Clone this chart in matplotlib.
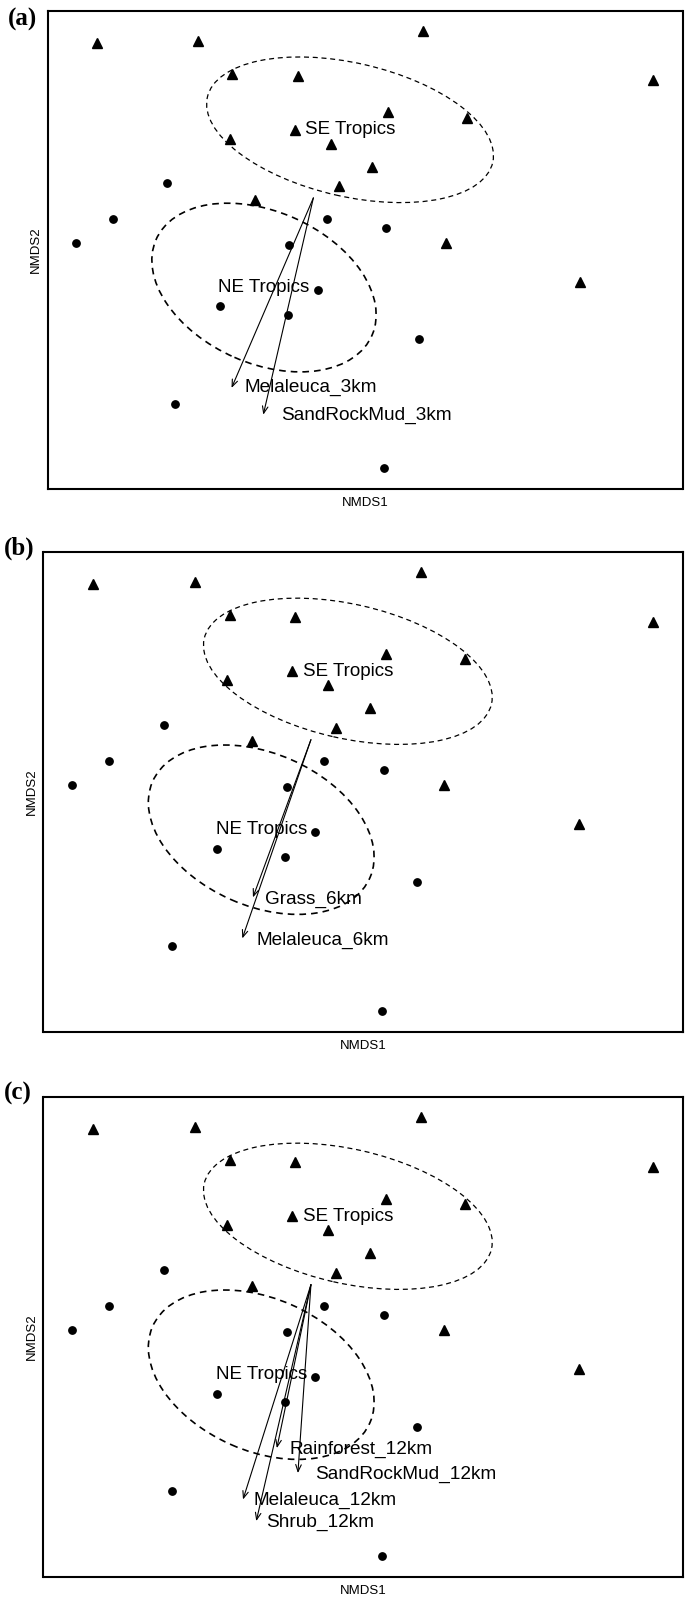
import numpy as np
import matplotlib
matplotlib.use('Agg')
import matplotlib.pyplot as plt
from matplotlib.patches import Ellipse

plt.rcParams['font.family'] = ['Liberation Sans', 'DejaVu Sans']

# site scores (NMDS1, NMDS2)
se_x = [-0.922, -0.491, 0.467, -0.344, -0.066, 1.444, 0.319, 0.653,
        -0.078, -0.353, 0.074, 0.251, 0.108, -0.248, 0.562, 1.133]
se_y = [0.650, 0.656, 0.699, 0.520, 0.510, 0.492, 0.359, 0.336,
        0.285, 0.247, 0.226, 0.131, 0.050, -0.007, -0.189, -0.350]
ne_x = [-0.621, -0.852, -1.008, 0.056, 0.310, -0.103, 0.019, -0.396,
        -0.109, 0.449, -0.587, 0.302]
ne_y = [0.063, -0.087, -0.188, -0.089, -0.126, -0.198, -0.385, -0.454,
        -0.489, -0.591, -0.861, -1.130]

# group ellipses: centre, axes, rotation
groups = ['SE Tropics', 'NE Tropics']
ell_cx = [0.156, -0.210]
ell_cy = [0.285, -0.375]
ell_w = [1.244, 1.002]
ell_h = [0.559, 0.636]
ell_ang = [-12.6, -23.3]

# envfit vectors per panel
vec_names = [['Melaleuca_3km', 'SandRockMud_3km'],
             ['Grass_6km', 'Melaleuca_6km'],
             ['Rainforest_12km', 'SandRockMud_12km', 'Melaleuca_12km', 'Shrub_12km']]
vec_x = [[-0.348, -0.213],
         [-0.245, -0.290],
         [-0.144, -0.055, -0.287, -0.231]]
vec_y = [[-0.795, -0.907],
         [-0.657, -0.828],
         [-0.681, -0.785, -0.895, -0.985]]
lab_x = [[-0.292, -0.139],
         [-0.194, -0.231],
         [-0.089, 0.016, -0.242, -0.190]]
lab_y = [[-0.795, -0.910],
         [-0.664, -0.837],
         [-0.686, -0.791, -0.900, -0.989]]
panels = ['(a)', '(b)', '(c)']

W, H = 685, 1598
fig = plt.figure(figsize=(W / 100, H / 100), dpi=100)

# frame boxes in pixels: left, top, right, bottom
boxes = [(47.7, 11, 682.5, 489), (43.5, 552, 682.5, 1032), (43.5, 1097, 682.5, 1577)]
tags = [(8, 19), (4, 548), (4, 1093)]

for i, (l, t, r, b) in enumerate(boxes):
    ax = fig.add_axes([l / W, 1 - b / H, (r - l) / W, (b - t) / H])
    ax.set_xlim(-1.130, 1.570)
    ax.set_ylim(-1.218, 0.782)
    ax.set_xticks([])
    ax.set_yticks([])
    for s in ax.spines.values():
        s.set_linewidth(1.5)
    ax.set_xlabel('NMDS1', fontsize=9.5, labelpad=6)
    ax.set_ylabel('NMDS2', fontsize=9.5, labelpad=4)

    ax.plot(se_x, se_y, '^', color='black', markersize=6.5, linestyle='none')
    ax.plot(ne_x, ne_y, 'o', color='black', markersize=5.3, linestyle='none')

    for g in range(len(groups)):
        lw = 0.9 if g == 0 else 1.2
        e = Ellipse((ell_cx[g], ell_cy[g]), ell_w[g], ell_h[g], angle=ell_ang[g],
                    fill=False, edgecolor='black', linestyle=(0, (4, 3)), linewidth=lw)
        ax.add_patch(e)
        ax.text(ell_cx[g], ell_cy[g], groups[g], ha='center', va='center', fontsize=13.5)

    for k, name in enumerate(vec_names[i]):
        ax.annotate('', xy=(vec_x[i][k], vec_y[i][k]), xytext=(0, 0),
                    arrowprops=dict(arrowstyle='->,head_length=0.5,head_width=0.2',
                                    color='black', lw=0.8, shrinkA=0, shrinkB=0))
        ax.text(lab_x[i][k], lab_y[i][k], name, ha='left', va='center', fontsize=13.7)

    fig.text(tags[i][0] / W, 1 - tags[i][1] / H, panels[i], fontsize=18,
             fontweight='bold', family='Liberation Serif', ha='left', va='center')

fig.savefig('out.png', dpi=100)
